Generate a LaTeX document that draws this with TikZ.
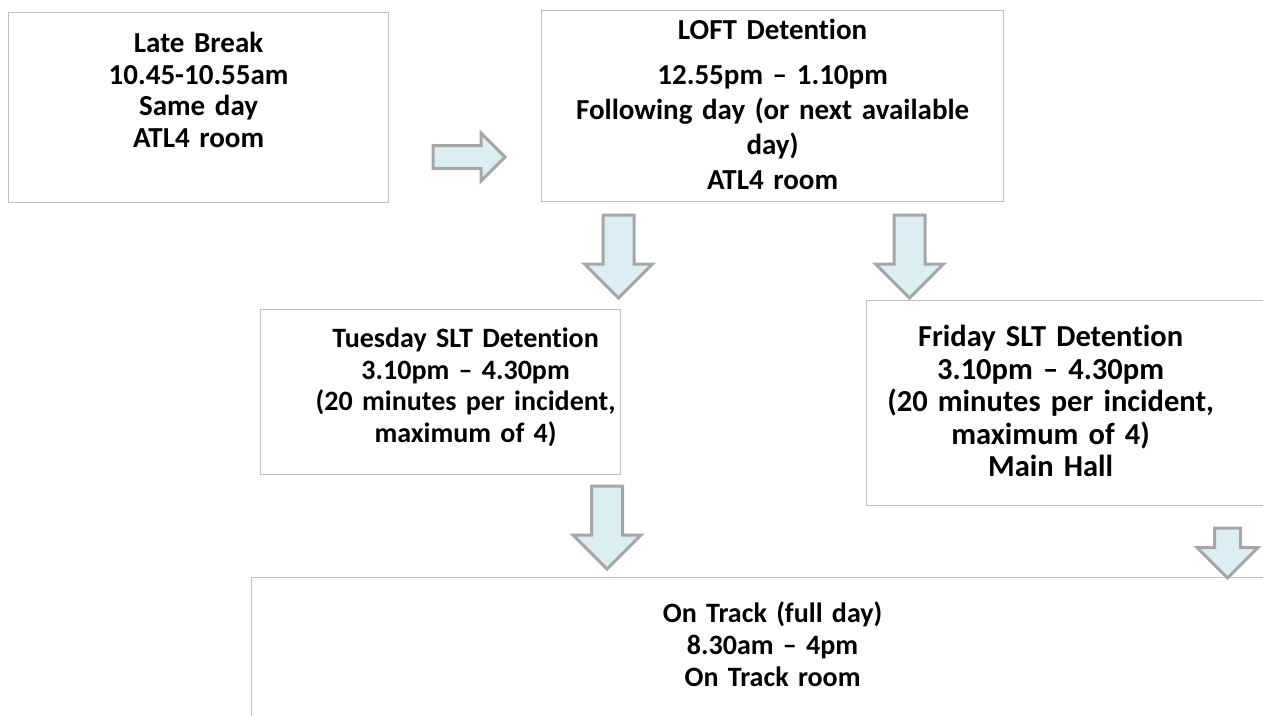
\documentclass[tikz,border=0pt]{standalone}
\usepackage{fontspec}
\setmainfont{Carlito}[Ligatures={TeX,NoCommon}]
\usetikzlibrary{shapes.arrows}
\definecolor{boxline}{RGB}{191,191,191}
\definecolor{arrowline}{RGB}{166,166,166}
\definecolor{arrowfill}{RGB}{218,238,243}

\begin{document}
\begin{tikzpicture}[x=1pt, y=-1pt,
    box/.style={draw=boxline, line width=1.2pt, inner sep=0pt, anchor=north west, align=center},
    blockarrow/.style={single arrow, draw=arrowline, fill=arrowfill, line width=3pt,
      inner xsep=0pt, text height=0pt, text depth=0pt, single arrow head indent=0pt, anchor=tail}]
          \useasboundingbox (0,0) rectangle (1263,715);
          \clip (0,0) rectangle (1263,715);

          \node[box, text width=380pt, text height=40pt, text depth=150pt,
                font=\fontsize{29}{31.5}\selectfont\bfseries] (late) at (8,12)
                {Late Break\\10.45-10.55am\\Same day\\ATL4 room};
          \node[box, text width=462pt, text height=29pt, text depth=162pt,
                font=\fontsize{29}{35}\selectfont\bfseries] (loft) at (541,10)
                {LOFT Detention\\[10pt]12.55pm – 1.10pm\\Following day (or next available\\day)\\ATL4 room};
          \node[box, text width=360pt, text height=38pt, text depth=127pt,
                font=\fontsize{28}{31.5}\selectfont\bfseries] (tuesday) at (260,309)
                {\advance\leftskip by 50pt\relax
                 Tuesday SLT Detention\\3.10pm – 4.30pm\\(20 minutes per incident,\\maximum of 4)\par};
          \node[box, text width=400pt, text height=46pt, text depth=159pt,
                font=\fontsize{30.5}{32.5}\selectfont\bfseries] (friday) at (866,300)
                {\advance\rightskip by 32pt\relax
                 Friday SLT Detention\\3.10pm – 4.30pm\\(20 minutes per incident,\\maximum of 4)\\Main Hall\par};
          \node[box, text width=1042pt, text height=45pt, text depth=120pt,
                font=\fontsize{28}{32}\selectfont\bfseries] (ontrack) at (251,577)
                {On Track (full day)\\8.30am – 4pm\\On Track room};

          \node[blockarrow, inner ysep=10pt, single arrow head extend=12.5pt, minimum height=72pt]
                (late-loft) at (431.5,157) {};
          \node[blockarrow, rotate=-90, inner ysep=14pt, single arrow head extend=18.5pt, minimum height=83pt]
                (loft-tuesday) at (618.5,213.5) {};
          \node[blockarrow, rotate=-90, inner ysep=14pt, single arrow head extend=18.5pt, minimum height=83pt]
                (loft-friday) at (909.5,213.5) {};
          \node[blockarrow, rotate=-90, inner ysep=14pt, single arrow head extend=18.5pt, minimum height=83pt]
                (tuesday-ontrack) at (607,484.5) {};
          \node[blockarrow, rotate=-90, inner ysep=11.5pt, single arrow head extend=17.5pt, minimum height=50pt]
                (friday-ontrack) at (1227.5,526.5) {};
    \end{tikzpicture}
\end{document}
